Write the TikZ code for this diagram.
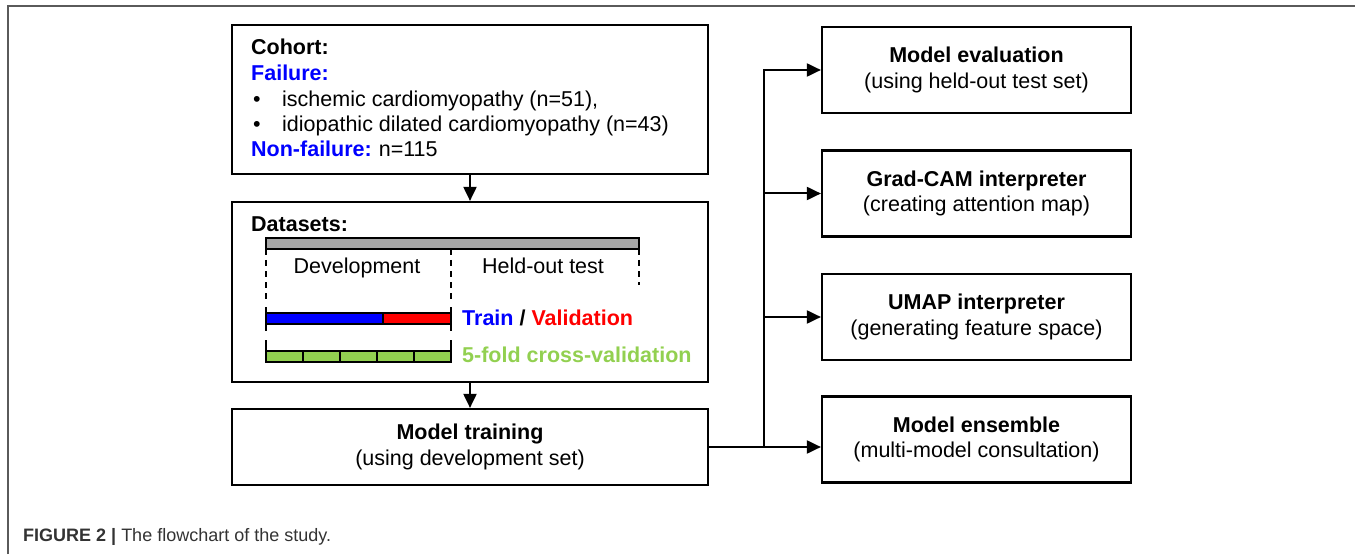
\documentclass[tikz,border=0pt]{standalone}
\usepackage{fontspec}
\setmainfont{Liberation Sans}
\usetikzlibrary{arrows.meta}
\definecolor{fblue}{HTML}{0000FF}
\definecolor{fred}{HTML}{FF0000}
\definecolor{fgreen}{HTML}{92D050}
\definecolor{fgray}{HTML}{A6A6A6}
\definecolor{framegray}{HTML}{5A5A5A}
\definecolor{captext}{HTML}{333333}
\begin{document}
\begin{tikzpicture}[x=1pt,y=-1pt,
  mainfont/.style={font=\fontsize{21.5}{25.5}\selectfont},
  box/.style={draw=black,line width=2.2pt,minimum width=476pt,inner sep=0pt,align=center,mainfont},
  rbox/.style={draw=black,line width=2.2pt,minimum width=309pt,minimum height=86pt,inner sep=0pt,align=center,mainfont},
  conn/.style={line width=2pt,-{Triangle[length=14pt,width=13pt]}},
  thin/.style={line width=1.5pt},
  txt/.style={anchor=base west,inner sep=0pt,mainfont},
  ctxt/.style={anchor=base,inner sep=0pt,mainfont}]
\useasboundingbox (0,0) rectangle (1355,556);
% outer frame
\draw[framegray,line width=1.5pt] (8,554) -- (8,6) -- (1355,6);
% left column boxes
\node[box,minimum height=149pt] (cohort) at (470,99.5) {};
\node[box,minimum height=180pt] (datasets) at (470,292) {};
\node[box,minimum height=76pt] (training) at (470,447) {\textbf{Model training}\\(using development set)};
% cohort text
\node[txt] (c1) at (251,55) {\textbf{Cohort:}};
\node[txt,text=fblue] (c2) at (251,81) {\textbf{Failure:}};
\node[txt] (b1) at (253,107) {•};
\node[txt] (c3) at (282,107) {ischemic cardiomyopathy (n=51),};
\node[txt] (b2) at (253,132) {•};
\node[txt] (c4) at (282,132) {idiopathic dilated cardiomyopathy (n=43)};
\node[txt] (c5) at (251,157) {\textcolor{fblue}{\textbf{Non-failure:}}\hspace{-1pt} n=115};
% datasets content
\node[txt] (dsl) at (251,232) {\textbf{Datasets:}};
\draw[thin,fill=fgray] (266,238) rectangle (639,249);
\draw[thin,dash pattern=on 6pt off 5pt] (266,249) -- (266,300);
\draw[thin,dash pattern=on 6pt off 5pt] (451,249) -- (451,300);
\draw[thin,dash pattern=on 6pt off 5pt] (639,249) -- (639,285);
\node[ctxt] (dev) at (357,273) {Development};
\node[ctxt] (held) at (543,273) {Held-out test};
\draw[thin] (266,307) -- (266,331);
\draw[thin] (451,307) -- (451,331);
\draw[thin,fill=fblue] (266,313) rectangle (383,324);
\draw[thin,fill=fred] (383,313) rectangle (451,324);
\draw[thin] (266,340) -- (266,362);
\draw[thin] (451,340) -- (451,362);
\foreach \k in {0,...,4} {
  \draw[thin,fill=fgreen] ({266+37*\k},351) rectangle ({266+37*(\k+1)},362);
}
\node[txt] (tv) at (462,325) {\bfseries\textcolor{fblue}{Train} / \textcolor{fred}{Validation}};
\node[txt,text=fgreen] (cv) at (462,362) {\bfseries 5-fold cross-validation};
% right column
\node[rbox] (eval) at (976.5,70) {\textbf{Model evaluation}\\(using held-out test set)};
\node[rbox] (gradcam) at (976.5,193.5) {\textbf{Grad-CAM interpreter}\\(creating attention map)};
\node[rbox] (umap) at (976.5,317) {\textbf{UMAP interpreter}\\(generating feature space)};
\node[rbox] (ens) at (976.5,439.5) {\textbf{Model ensemble}\\(multi-model consultation)};
% connectors
\draw[conn] (cohort.south) -- (datasets.north);
\draw[conn] (datasets.south) -- (training.north);
\coordinate (bus) at (764,447);
\draw[conn] (training.east) -- (training.east -| ens.west);
\draw[conn] (bus) |- (eval.west);
\draw[conn] (bus |- gradcam.west) -- (gradcam.west);
\draw[conn] (bus |- umap.west) -- (umap.west);
% caption
\node[anchor=base west,inner sep=0pt,font=\fontsize{18}{21}\selectfont,text=captext] (cap) at (23,541) {\textbf{FIGURE 2 |} The flowchart of the study.};
\end{tikzpicture}
\end{document}
